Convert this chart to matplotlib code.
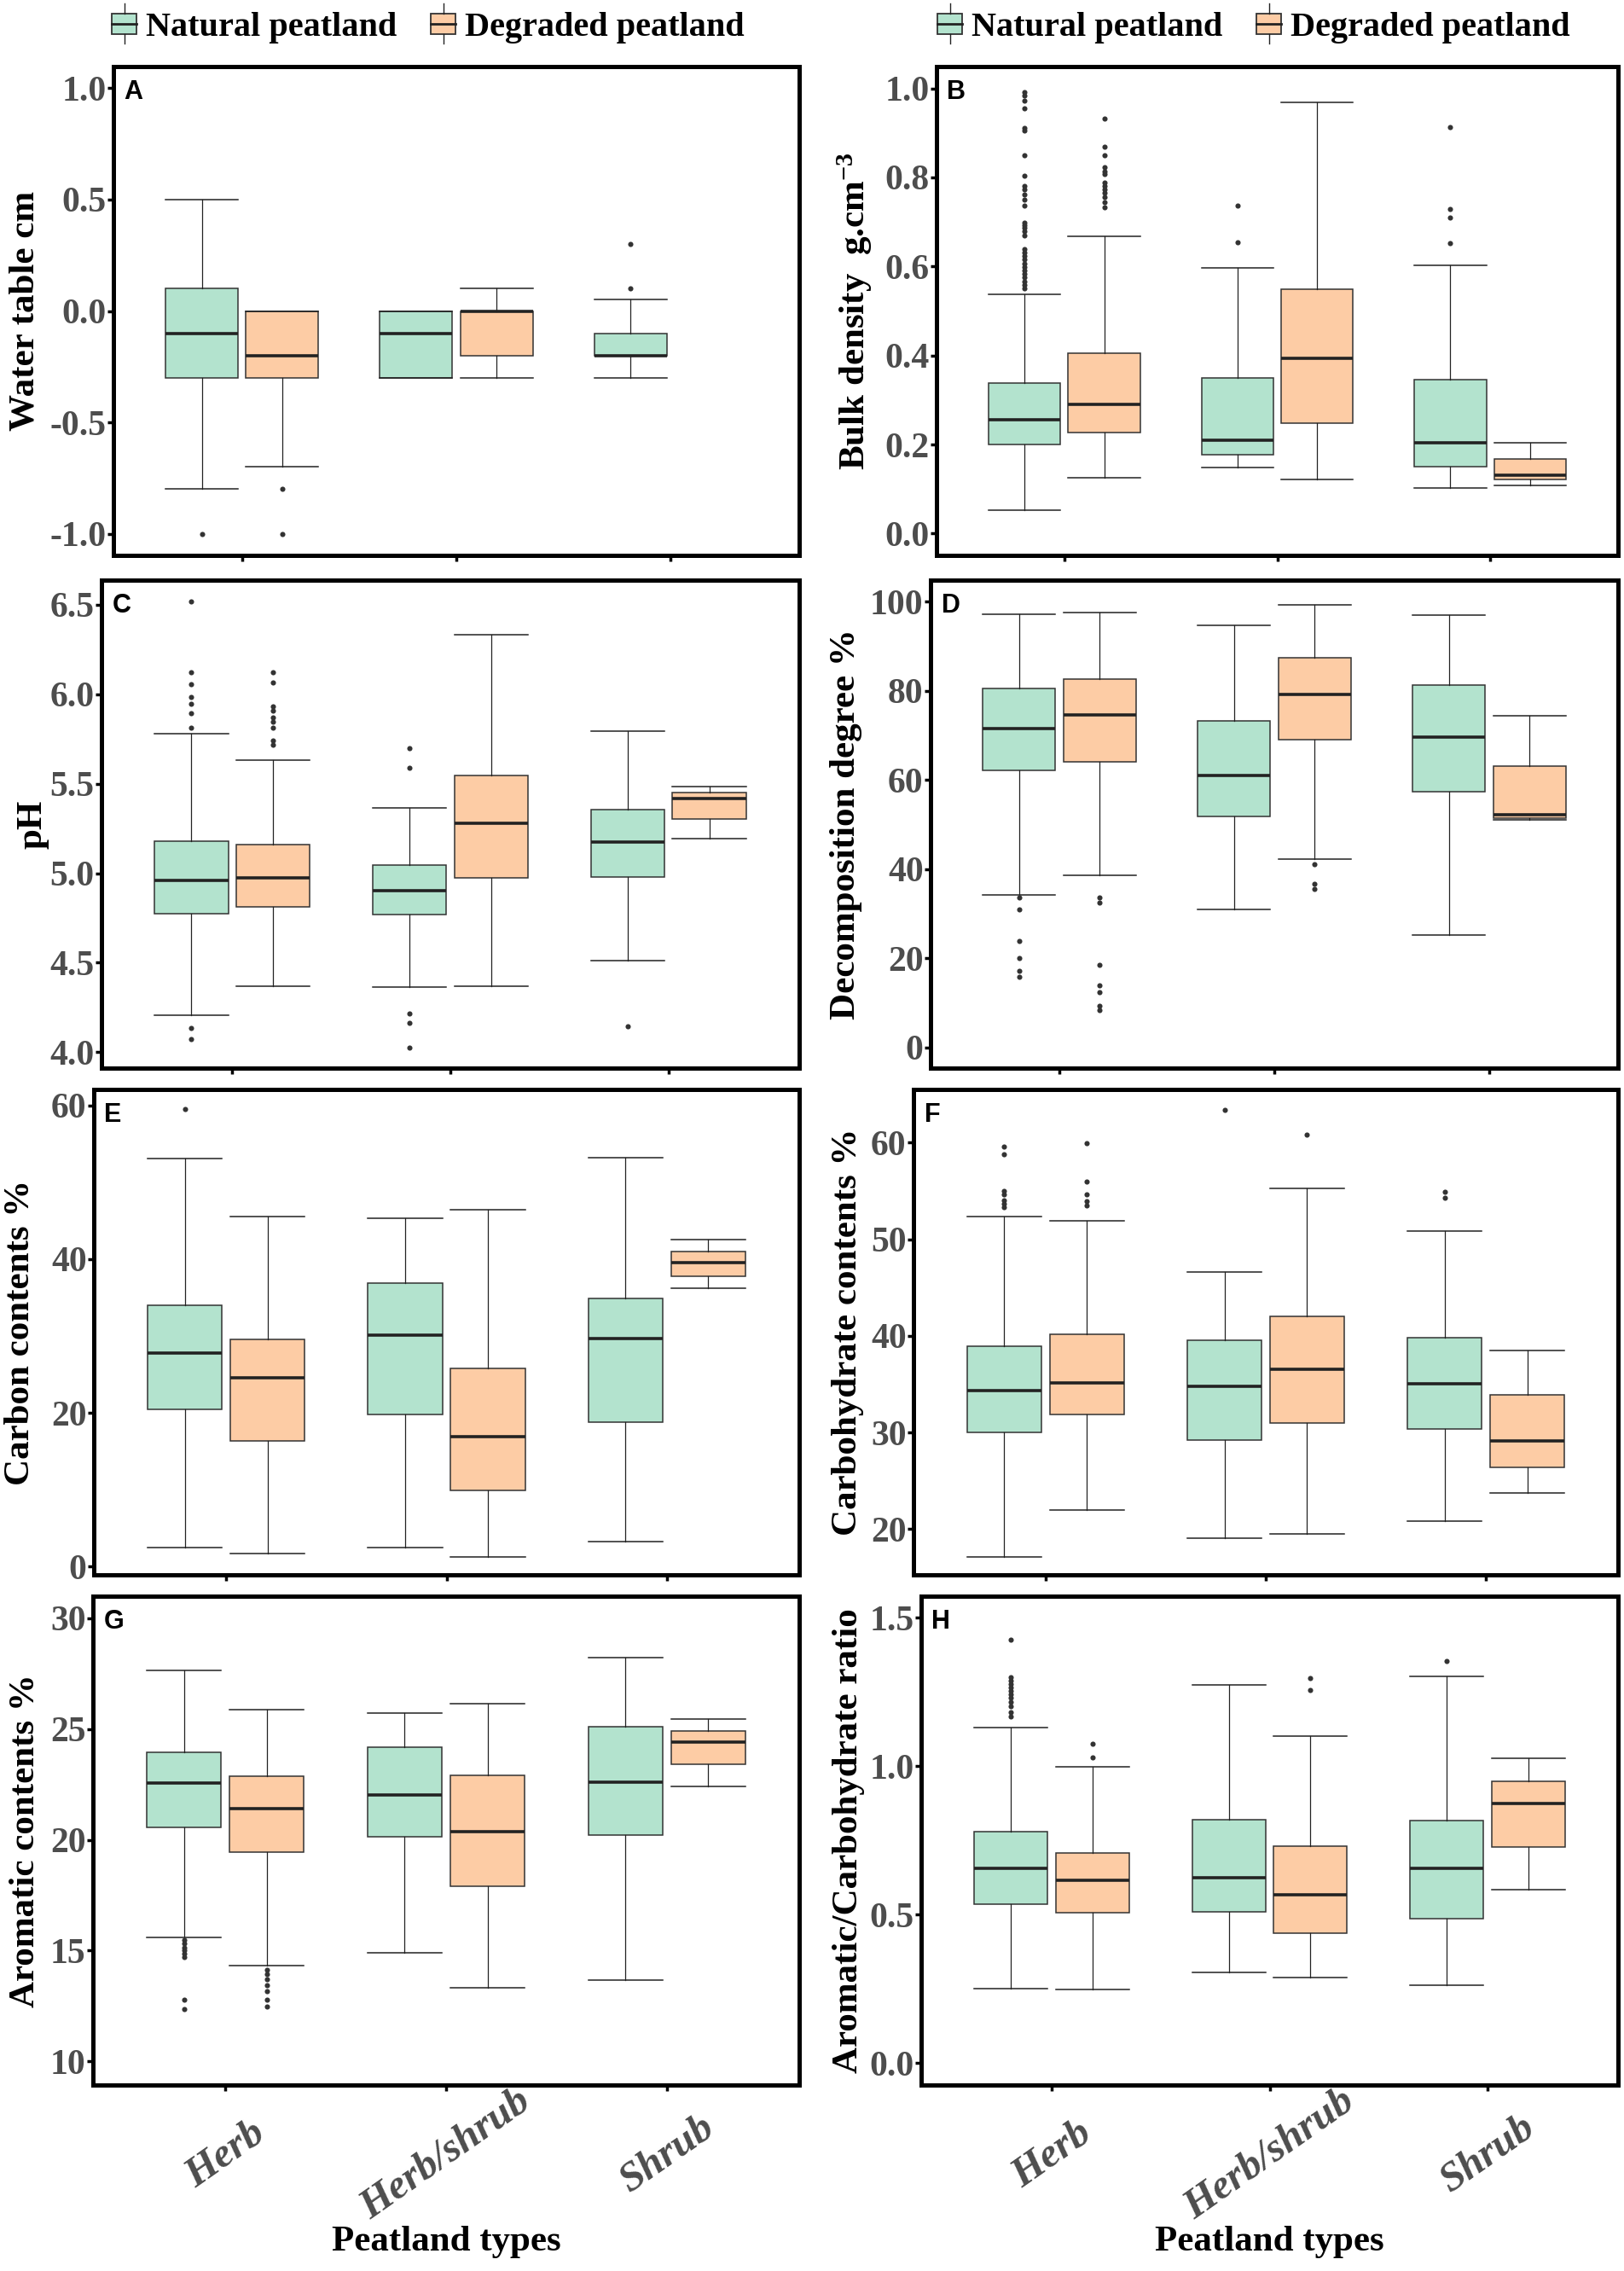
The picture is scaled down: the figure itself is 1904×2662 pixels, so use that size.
import matplotlib
matplotlib.use("Agg")
import matplotlib.pyplot as plt
from matplotlib.legend_handler import HandlerBase
from matplotlib.patches import Rectangle, Patch
from matplotlib.lines import Line2D

plt.rcParams.update({
    "font.family": "Liberation Serif",
    "font.weight": "bold",
    "axes.labelweight": "bold",
    "mathtext.fontset": "custom",
    "mathtext.rm": "Liberation Serif",
    "mathtext.it": "Liberation Serif:italic",
    "mathtext.bf": "Liberation Serif:bold",
})

TYPES = ["Herb", "Herb/shrub", "Shrub"]
GROUPS = ["Natural peatland", "Degraded peatland"]
COLORS = ["#B3E3CE", "#FDCCA5"]

# box summaries per peatland type: (lower whisker, Q1, median, Q3, upper whisker)
water_nat = [[-0.8, -0.3, -0.1, 0.1, 0.5], [-0.3, -0.3, -0.1, 0.0, 0.0], [-0.3, -0.2, -0.2, -0.1, 0.05]]
water_nat_out = [[-1.0], [], [0.1, 0.3]]
water_deg = [[-0.7, -0.3, -0.2, 0.0, 0.0], [-0.3, -0.2, 0.0, 0.0, 0.1], None]
water_deg_out = [[-0.8, -1.0], [], []]

bulk_nat = [[0.053, 0.201, 0.255, 0.338, 0.538], [0.148, 0.178, 0.209, 0.350, 0.597], [0.103, 0.151, 0.204, 0.345, 0.603]]
bulk_nat_out = [[0.551, 0.559, 0.567, 0.575, 0.583, 0.591, 0.599, 0.607, 0.615, 0.623, 0.632, 0.638,
                 0.670, 0.680, 0.686, 0.692, 0.699, 0.737, 0.751, 0.761, 0.773, 0.781, 0.803, 0.850,
                 0.905, 0.911, 0.955, 0.972, 0.984, 0.992],
                [0.654, 0.736],
                [0.653, 0.709, 0.729, 0.913]]
bulk_deg = [[0.125, 0.227, 0.290, 0.406, 0.668], [0.121, 0.248, 0.394, 0.549, 0.968], [0.109, 0.121, 0.131, 0.168, 0.204]]
bulk_deg_out = [[0.733, 0.745, 0.755, 0.765, 0.773, 0.781, 0.789, 0.807, 0.814, 0.822, 0.850, 0.868, 0.933], [], []]

ph_nat = [[4.205, 4.773, 4.962, 5.180, 5.782], [4.364, 4.767, 4.902, 5.047, 5.364], [4.513, 4.981, 5.176, 5.356, 5.794]]
ph_nat_out = [[4.072, 4.134, 5.814, 5.894, 5.947, 5.985, 6.055, 6.121, 6.521],
              [4.025, 4.163, 4.214, 5.591, 5.701],
              [4.144]]
ph_deg = [[4.371, 4.811, 4.972, 5.161, 5.634], [4.371, 4.972, 5.280, 5.544, 6.331], [5.193, 5.303, 5.417, 5.449, 5.483]]
ph_deg_out = [[5.720, 5.742, 5.814, 5.847, 5.871, 5.909, 5.932, 6.064, 6.121], [], []]

decomp_nat = [[34.3, 62.1, 71.5, 80.6, 97.2], [30.9, 51.8, 61.0, 73.3, 94.7], [25.2, 57.3, 69.6, 81.2, 97.0]]
decomp_nat_out = [[15.9, 17.2, 20.0, 23.9, 30.9, 33.6], [], []]
decomp_deg = [[38.6, 64.0, 74.6, 82.6, 97.6], [42.3, 69.1, 79.2, 87.3, 99.3], [51.0, 51.4, 52.2, 63.2, 74.3]]
decomp_deg_out = [[8.5, 9.3, 12.5, 13.9, 18.5, 32.5, 33.6], [35.5, 36.7, 41.2], []]

carbon_nat = [[2.4, 20.5, 27.8, 34.0, 53.1], [2.4, 19.8, 30.1, 36.9, 45.3], [3.2, 18.8, 29.7, 34.9, 53.2]]
carbon_nat_out = [[59.5], [], []]
carbon_deg = [[1.7, 16.3, 24.6, 29.6, 45.5], [1.2, 9.9, 16.9, 25.8, 46.4], [36.2, 37.8, 39.5, 41.0, 42.6]]
carbon_deg_out = [[], [], []]

carb_nat = [[17.1, 30.0, 34.3, 38.9, 52.3], [19.1, 29.2, 34.8, 39.5, 46.6], [20.8, 30.4, 35.0, 39.8, 50.8]]
carb_nat_out = [[53.3, 53.7, 54.0, 54.6, 55.0, 58.8, 59.6], [63.4], [54.3, 54.9]]
carb_deg = [[22.0, 31.9, 35.1, 40.2, 51.9], [19.5, 31.0, 36.5, 42.0, 55.3], [23.7, 26.4, 29.1, 33.9, 38.5]]
carb_deg_out = [[53.5, 53.9, 54.6, 56.0, 59.9], [60.8], []]

arom_nat = [[15.61, 20.58, 22.58, 23.96, 27.66], [14.89, 20.14, 22.03, 24.17, 25.72], [13.67, 20.2, 22.6, 25.11, 28.24]]
arom_nat_out = [[12.34, 12.80, 14.69, 14.85, 15.0, 15.15, 15.31, 15.46], [], []]
arom_deg = [[14.31, 19.43, 21.42, 22.87, 25.89], [13.33, 17.92, 20.37, 22.9, 26.13], [22.4, 23.41, 24.42, 24.92, 25.47]]
arom_deg_out = [[12.49, 12.78, 13.17, 13.44, 13.72, 13.93, 14.13], [], []]

ratio_nat = [[0.251, 0.534, 0.656, 0.779, 1.129], [0.305, 0.508, 0.624, 0.819, 1.274], [0.262, 0.485, 0.656, 0.817, 1.301]]
ratio_nat_out = [[1.166, 1.181, 1.200, 1.215, 1.230, 1.241, 1.252, 1.264, 1.275, 1.287, 1.298, 1.426], [], [1.354]]
ratio_deg = [[0.249, 0.505, 0.614, 0.707, 0.998], [0.287, 0.437, 0.567, 0.730, 1.100], [0.584, 0.728, 0.874, 0.949, 1.025]]
ratio_deg_out = [[1.030, 1.074], [1.257, 1.297], []]

PANELS = [
    dict(letter="A", label="Water table cm", nat=water_nat, nat_out=water_nat_out, deg=water_deg, deg_out=water_deg_out,
         ylim=(-1.097, 1.097), ticks=[-1.0, -0.5, 0.0, 0.5, 1.0], fmt="{:.1f}"),
    dict(letter="B", label="Bulk density  g.cm$^{-3}$", nat=bulk_nat, nat_out=bulk_nat_out, deg=bulk_deg, deg_out=bulk_deg_out,
         ylim=(-0.049, 1.049), ticks=[0.0, 0.2, 0.4, 0.6, 0.8, 1.0], fmt="{:.1f}"),
    dict(letter="C", label="pH", nat=ph_nat, nat_out=ph_nat_out, deg=ph_deg, deg_out=ph_deg_out,
         ylim=(3.911, 6.638), ticks=[4.0, 4.5, 5.0, 5.5, 6.0, 6.5], fmt="{:.1f}"),
    dict(letter="D", label="Decomposition degree %", nat=decomp_nat, nat_out=decomp_nat_out, deg=decomp_deg, deg_out=decomp_deg_out,
         ylim=(-4.6, 104.8), ticks=[0, 20, 40, 60, 80, 100], fmt="{:.0f}"),
    dict(letter="E", label="Carbon contents %", nat=carbon_nat, nat_out=carbon_nat_out, deg=carbon_deg, deg_out=carbon_deg_out,
         ylim=(-1.1, 62.1), ticks=[0, 20, 40, 60], fmt="{:.0f}"),
    dict(letter="F", label="Carbohydrate contents %", nat=carb_nat, nat_out=carb_nat_out, deg=carb_deg, deg_out=carb_deg_out,
         ylim=(15.26, 65.5), ticks=[20, 30, 40, 50, 60], fmt="{:.0f}"),
    dict(letter="G", label="Aromatic contents %", nat=arom_nat, nat_out=arom_nat_out, deg=arom_deg, deg_out=arom_deg_out,
         ylim=(8.93, 31.0), ticks=[10, 15, 20, 25, 30], fmt="{:.0f}"),
    dict(letter="H", label="Aromatic/Carbohydrate ratio", nat=ratio_nat, nat_out=ratio_nat_out, deg=ratio_deg, deg_out=ratio_deg_out,
         ylim=(-0.074, 1.572), ticks=[0.0, 0.5, 1.0, 1.5], fmt="{:.1f}"),
]

# layout in pixels: (left, top, right, bottom) of each panel, and x of the y-label centre
W, H = 1904, 2662
AX_BOX = {"A": (133, 78, 937, 651), "B": (1098, 78, 1897, 651),
          "C": (119, 680, 937, 1252), "D": (1091, 680, 1897, 1252),
          "E": (110, 1277, 937, 1846), "F": (1071, 1277, 1897, 1846),
          "G": (109, 1871, 937, 2444), "H": (1080, 1871, 1897, 2444)}
YLAB_X = {"A": 30, "B": 1002, "C": 39, "D": 992, "E": 24, "F": 994, "G": 30, "H": 995}

GRAY = "#4D4D4D"
DODGE = 0.1875
BOXW = 0.3375


class BoxKey(HandlerBase):
    def create_artists(self, legend, orig_handle, xdescent, ydescent, width, height, fontsize, trans):
        x0, y0 = -xdescent, -ydescent
        cx = x0 + width / 2
        box = Rectangle((x0, y0 + 0.1 * height), width, 0.8 * height, facecolor=orig_handle.get_facecolor(),
                        edgecolor="#333333", lw=1.3, transform=trans)
        med = Line2D([x0, x0 + width], [y0 + 0.5 * height] * 2, color="#222222", lw=2.0, transform=trans)
        wlo = Line2D([cx, cx], [y0 - 0.3 * height, y0 + 0.1 * height], color="#222222", lw=1.0, transform=trans)
        whi = Line2D([cx, cx], [y0 + 0.9 * height, y0 + 1.3 * height], color="#222222", lw=1.0, transform=trans)
        return [box, med, wlo, whi]


fig = plt.figure(figsize=(W / 100, H / 100), dpi=100)

for p in PANELS:
    l, t, r, b = AX_BOX[p["letter"]]
    ax = fig.add_axes([l / W, 1 - b / H, (r - l) / W, (b - t) / H])

    for g, (summ, outs, color) in enumerate([(p["nat"], p["nat_out"], COLORS[0]), (p["deg"], p["deg_out"], COLORS[1])]):
        offset = -DODGE if g == 0 else DODGE
        stats, pos = [], []
        for i, (s, o) in enumerate(zip(summ, outs)):
            if s is None:
                continue
            lo, q1, med, q3, hi = s
            stats.append(dict(whislo=lo, q1=q1, med=med, q3=q3, whishi=hi, fliers=o))
            pos.append(i + 1 + offset)
        ax.bxp(stats, positions=pos, widths=BOXW, capwidths=BOXW, patch_artist=True, manage_ticks=False,
               boxprops=dict(facecolor=color, edgecolor="#333333", linewidth=1.1),
               medianprops=dict(color="#222222", linewidth=2.6),
               whiskerprops=dict(color="#222222", linewidth=0.9),
               capprops=dict(color="#222222", linewidth=1.1),
               flierprops=dict(marker="o", markersize=4.4, markerfacecolor="#333333", markeredgecolor="none"))

    ax.set_xlim(0.4, 3.6)
    ax.set_ylim(*p["ylim"])
    ax.set_yticks(p["ticks"])
    ax.set_yticklabels([p["fmt"].format(v) for v in p["ticks"]], fontweight="bold")
    ax.set_xticks([1, 2, 3])
    for sp in ax.spines.values():
        sp.set_linewidth(3.6)
        sp.set_color("black")
    ax.tick_params(direction="out", length=5, width=2.5, color="black", labelcolor=GRAY)
    ax.tick_params(axis="y", labelsize=30, pad=1)

    if p["letter"] in ("G", "H"):
        ax.set_xticklabels(TYPES, rotation=35, ha="center", va="center", rotation_mode="anchor",
                           fontsize=35, style="italic", fontweight="bold", color=GRAY)
        ax.tick_params(axis="x", pad=54)
        ax.set_xlabel("Peatland types", fontsize=31, color="black", fontweight="bold")
        ax.xaxis.set_label_coords(0.5, -(2628 - b) / (b - t))
        ax.xaxis.label.set_va("center")
    else:
        ax.set_xticklabels([])

    ax.annotate(p["letter"], xy=(0, 1), xycoords="axes fraction", xytext=(9, -11), textcoords="offset points",
                ha="left", va="top", fontsize=22, family="Liberation Sans", weight="bold")

    fig.text(YLAB_X[p["letter"]] / W, 1 - (t + b) / 2 / H, p["label"], rotation=90, ha="center", va="center",
             fontsize=31, color="black", fontweight="bold")

handles = [Patch(facecolor=c) for c in COLORS]
for cx in (502, 1470):
    fig.legend(handles=handles, labels=GROUPS, handler_map={Patch: BoxKey()}, loc="center",
               bbox_to_anchor=(cx / W, 1 - 32 / H), ncol=2, frameon=False,
               prop=dict(family="Liberation Serif", weight="bold", size=29),
               handlelength=0.7, handleheight=0.75, handletextpad=0.28, columnspacing=1.0, borderpad=0)

fig.savefig("out.png", dpi=100, facecolor="white")
